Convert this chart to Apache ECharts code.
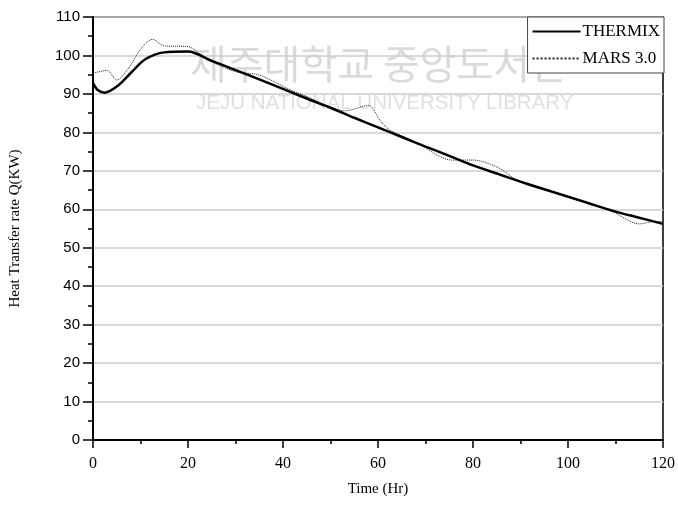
<!DOCTYPE html>
<html>
<head>
<meta charset="utf-8">
<script src="https://cdn.jsdelivr.net/npm/echarts@6/dist/echarts.min.js"></script>
<style>
  html, body { margin: 0; padding: 0; background: #fff; }
  #chart { width: 678px; height: 508px; }
</style>
</head>
<body>
<div id="chart"></div>
<script>
// values: [time (Hr), Q (KW)]
var thermix = [
  [0, 92.8], [1, 91], [2.4, 90.3], [5, 91.9], [8, 95.5], [11, 99], [15, 100.8],
  [20, 101], [25, 98.6], [30, 96.2], [35, 93.8], [40, 91.3], [45, 88.8],
  [50, 86.4], [55, 83.8], [60, 81.3], [65, 78.8], [70, 76.3], [75, 73.9],
  [80, 71.4], [85, 69.3], [90, 67.2], [95, 65.2], [100, 63.3], [105, 61.3],
  [110, 59.4], [115, 57.8], [120, 56.2]
];
var mars = [
  [0, 95.4], [3, 96.1], [5, 93.6], [7.5, 96.7], [10, 101.6], [12.5, 104.2],
  [15, 102.5], [20, 102.3], [24, 99], [30, 95.8], [35, 94.9], [41, 91.4],
  [45, 89.3], [50, 86.6], [53, 85.6], [58, 87], [60.5, 83], [62.5, 80.6],
  [67, 78], [70, 76], [73, 73.7], [75.5, 72.8], [80, 72.8], [85, 71],
  [90, 67], [95, 65], [100, 63], [105, 61.2], [109.3, 59.4], [115, 56.2],
  [118, 56.8], [120, 56.8]
];
var seriesNames = ['THERMIX', 'MARS 3.0'];

var chart = echarts.init(document.getElementById('chart'));
var serif = 'Liberation Serif';

chart.setOption({
  backgroundColor: '#fff',
  animation: false,
  grid: {
    left: 92, right: 14, top: 17, bottom: 68,
    show: true, borderColor: '#000', borderWidth: 1.5, backgroundColor: 'transparent'
  },
  graphic: [
    // library watermark
    {
      type: 'text', left: 190, top: 44, silent: true, z: 0,
      style: { text: '제주대학교 중앙도서관', fill: 'rgba(150,150,150,0.35)',
               font: '40px "Noto Sans CJK KR"' }
    },
    {
      type: 'text', left: 196, top: 93, silent: true, z: 0,
      style: { text: 'JEJU NATIONAL UNIVERSITY LIBRARY', fill: 'rgba(150,150,150,0.3)',
               font: '20.5px "Liberation Sans"' }
    }
  ],
  legend: {
    data: seriesNames,
    orient: 'vertical',
    right: 14, top: 17,
    backgroundColor: '#fff',
    borderColor: '#444', borderWidth: 1,
    padding: [6, 4, 6, 4],
    itemWidth: 48, itemHeight: 12, itemGap: 10,
    itemStyle: { opacity: 0 },
    textStyle: { fontFamily: serif, fontSize: 17, color: '#000', padding: [0, 0, 0, -3] }
  },
  xAxis: {
    type: 'value',
    min: 0, max: 120, interval: 20,
    name: 'Time (Hr)',
    nameLocation: 'middle', nameGap: 42,
    nameTextStyle: { fontFamily: serif, fontSize: 15, color: '#000' },
    axisLine: { onZero: false, lineStyle: { color: '#000', width: 2 } },
    axisTick: { length: 8, lineStyle: { color: '#000', width: 1.5 } },
    minorTick: { show: true, splitNumber: 2, length: 4, lineStyle: { color: '#000', width: 1.5 } },
    axisLabel: { margin: 16, fontFamily: serif, fontSize: 16, color: '#000' },
    splitLine: { show: false }
  },
  yAxis: {
    type: 'value',
    min: 0, max: 110, interval: 10,
    name: 'Heat Transfer rate Q(KW)',
    nameLocation: 'middle', nameGap: 70,
    nameTextStyle: { fontFamily: serif, fontSize: 15, color: '#000' },
    axisLine: { onZero: false, lineStyle: { color: '#000', width: 2 } },
    axisTick: { length: 10, lineStyle: { color: '#000', width: 1.5 } },
    minorTick: { show: true, splitNumber: 2, length: 5, lineStyle: { color: '#000', width: 1.5 } },
    axisLabel: { margin: 13, fontFamily: 'Liberation Sans', fontSize: 15, color: '#000' },
    splitLine: { show: true, lineStyle: { color: '#cccccc', width: 1.5 } }
  },
  series: [
    {
      name: seriesNames[0], type: 'line', data: thermix,
      symbol: 'none', smooth: 0.3, z: 3,
      lineStyle: { color: '#000', width: 2.5 }, itemStyle: { color: '#000' }
    },
    {
      name: seriesNames[1], type: 'line', data: mars,
      symbol: 'none', smooth: 0.3, z: 2,
      lineStyle: { color: '#222', width: 1, type: 'dotted' }, itemStyle: { color: '#222' }
    }
  ]
});
</script>
</body>
</html>
